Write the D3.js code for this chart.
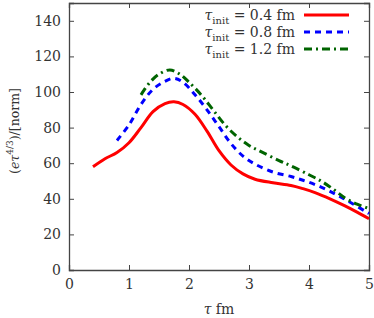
<!DOCTYPE html>
<html>
<head>
<meta charset="utf-8">
<script src="https://cdn.jsdelivr.net/npm/d3@7"></script>
<style>
  body { margin: 0; background: #fff; }
  text { font-family: "DejaVu Serif", serif; fill: #333; }
</style>
</head>
<body>
<div id="chart"></div>
<script>
// values
const tau04 = [[0.4,58],[0.6,62.5],[0.8,66],[1.0,71.5],[1.2,80],[1.4,89],[1.6,93.5],[1.75,94.5],[1.9,93],[2.1,87.5],[2.3,78],[2.5,67],[2.7,59],[2.9,54],[3.1,51],[3.4,49],[3.7,47.5],[3.9,45.7],[4.1,43.5],[4.35,40],[4.6,36],[4.8,32.5],[5.0,28.8]];
const tau08 = [[0.8,72.8],[1.0,81.5],[1.2,93],[1.4,101.5],[1.6,106],[1.75,107.7],[1.9,105.5],[2.1,98.5],[2.3,90],[2.5,80.5],[2.7,71],[2.9,64],[3.1,59.5],[3.4,55],[3.7,52.5],[3.9,50.4],[4.1,48],[4.3,45],[4.5,41.5],[4.7,37.8],[5.0,31.7]];
const tau12 = [[1.2,98.4],[1.35,105.5],[1.5,110],[1.68,112.4],[1.85,110],[2.0,105.5],[2.2,98.5],[2.4,90],[2.6,81.5],[2.8,75],[3.0,70],[3.2,66.5],[3.5,61.5],[3.7,58.5],[4.0,53.5],[4.2,50],[4.4,45.5],[4.6,40.5],[4.8,37],[5.0,34.5]];
const legendLabels = ["0.4", "0.8", "1.2"];
const xTicks = [0, 1, 2, 3, 4, 5];
const yTicks = [0, 20, 40, 60, 80, 100, 120, 140];

const series = [
  {data: tau04, label: legendLabels[0], color: "#ff0000", dash: null},
  {data: tau08, label: legendLabels[1], color: "#0000ff", dash: "6,5"},
  {data: tau12, label: legendLabels[2], color: "#006400", dash: "8,4,2,4"}
];

const width = 374, height = 318;
const m = {left: 69, right: 5, top: 3, bottom: 48};
const serif = "'DejaVu Serif', serif";

const svg = d3.select("#chart").append("svg")
  .attr("width", width)
  .attr("height", height);

const x = d3.scaleLinear().domain([0, 5]).range([m.left, width - m.right]);
const y = d3.scaleLinear().domain([0, 150]).range([height - m.bottom, m.top]);

const axisColor = "#444";

// ticks on all four sides, pointing inward
const axBottom = svg.append("g").attr("transform", `translate(0,${height - m.bottom})`)
  .call(d3.axisBottom(x).tickValues(xTicks).tickSize(-5).tickPadding(9).tickFormat(d3.format("d")));
const axTop = svg.append("g").attr("transform", `translate(0,${m.top})`)
  .call(d3.axisTop(x).tickValues(xTicks).tickSize(-5).tickFormat(""));
const axLeft = svg.append("g").attr("transform", `translate(${m.left},0)`)
  .call(d3.axisLeft(y).tickValues(yTicks).tickSize(-5).tickPadding(8).tickFormat(d3.format("d")));
const axRight = svg.append("g").attr("transform", `translate(${width - m.right},0)`)
  .call(d3.axisRight(y).tickValues(yTicks).tickSize(-5).tickFormat(""));

[axBottom, axTop, axLeft, axRight].forEach(g => {
  g.attr("font-family", serif);
  g.select(".domain").attr("stroke", axisColor).attr("stroke-width", 1.3);
  g.selectAll(".tick line").attr("stroke", axisColor).attr("stroke-width", 1);
  g.selectAll(".tick text").style("font-family", serif)
    .style("font-size", "14px").attr("fill", "#333");
});
// remove end ticks sitting on the frame corners
axBottom.selectAll(".tick").filter(d => d === 0 || d === 5).select("line").remove();
axTop.selectAll(".tick").filter(d => d === 0 || d === 5).select("line").remove();
axLeft.selectAll(".tick").filter(d => d === 0).select("line").remove();
axRight.selectAll(".tick").filter(d => d === 0).select("line").remove();

const line = d3.line()
  .x(d => x(d[0]))
  .y(d => y(d[1]))
  .curve(d3.curveCatmullRom.alpha(0.5));

svg.append("g").selectAll("path")
  .data(series)
  .enter()
  .append("path")
  .attr("d", d => line(d.data))
  .attr("fill", "none")
  .attr("stroke", d => d.color)
  .attr("stroke-width", 3)
  .attr("stroke-dasharray", d => d.dash);

// legend
const legend = svg.append("g");
series.forEach((s, i) => {
  const yy = 15 + i * 17;
  const t = legend.append("text")
    .attr("x", 295).attr("y", yy + 5)
    .attr("text-anchor", "end")
    .style("font-family", serif)
    .style("font-size", "14px");
  t.append("tspan").style("font-style", "italic").text("τ");
  t.append("tspan").attr("dy", 4).style("font-size", "10px").text("init");
  t.append("tspan").attr("dy", -4).text(" = " + s.label + " fm");
  legend.append("line")
    .attr("x1", 304).attr("x2", 349)
    .attr("y1", yy).attr("y2", yy)
    .attr("stroke", s.color)
    .attr("stroke-width", 3)
    .attr("stroke-dasharray", s.dash);
});

// axis titles
const xt = svg.append("text")
  .attr("x", x(2.5)).attr("y", 314)
  .attr("text-anchor", "middle")
  .style("font-family", serif)
  .style("font-size", "14px");
xt.append("tspan").style("font-style", "italic").text("τ");
xt.append("tspan").text(" fm");

const yt = svg.append("text")
  .attr("transform", `translate(19,131) rotate(-90)`)
  .attr("text-anchor", "middle")
  .style("font-family", serif)
  .style("font-size", "12.5px");
yt.append("tspan").text("(");
yt.append("tspan").style("font-style", "italic").text("eτ");
yt.append("tspan").attr("dy", -6).style("font-size", "9px").text("4/3");
yt.append("tspan").attr("dy", 6).text(")/[norm]");
</script>
</body>
</html>
